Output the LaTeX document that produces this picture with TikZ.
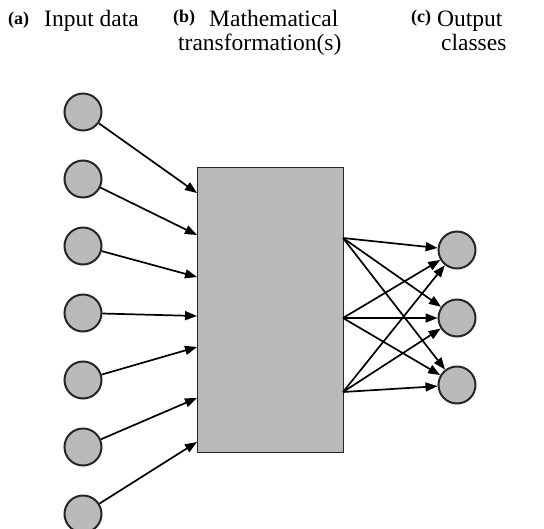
\documentclass[tikz,border=0pt]{standalone}
\usepackage{fontspec}
\setmainfont{Liberation Serif}
\usetikzlibrary{arrows.meta}
\begin{document}
\begin{tikzpicture}[x=1pt,y=-1pt,
  unit/.style={circle,draw=black!85,line width=2pt,fill=black!27,minimum size=37pt,inner sep=0pt},
  block/.style={draw=black!85,line width=1.4pt,fill=black!27},
  conn/.style={line width=1.7pt,-{Triangle[length=12pt,width=9pt]}},
  lbl/.style={font=\fontsize{23.5}{27}\selectfont,inner sep=0pt,anchor=base west},
  tag/.style={font=\fontsize{18}{20}\selectfont\bfseries,inner sep=0pt,anchor=base west}]
\useasboundingbox (0,0) rectangle (544,528);
\begin{scope}
\clip (0,0) rectangle (544,528);
% headings
\node[tag] (ta) at (8,24) {(a)};
\node[lbl] (la) at (44,26) {Input data};
\node[tag] (tb) at (173,22) {(b)};
\node[lbl] (lb) at (209,26) {Mathematical};
\node[lbl] (lb2) at (178,50) {transformation(s)};
\node[tag] (tc) at (411,22) {(c)};
\node[lbl] (lc) at (437,26) {Output};
\node[lbl] (lc2) at (441,50) {classes};
% transformation block
\node[block,minimum width=146pt,minimum height=285pt,inner sep=0pt,anchor=north west] (box) at (197,167) {};
% input units
\foreach \i/\y in {1/112,2/179,3/246,4/313,5/380,6/447,7/514}
  \node[unit] (in\i) at (83,\y) {};
\foreach \i/\y in {1/193,2/235,3/277,4/316,5/347,6/398,7/442}
  \coordinate (e\i) at (197,\y);
\foreach \i in {1,...,7}
  \draw[conn] (in\i) -- (e\i);
% output units
\foreach \j/\y in {1/250,2/318,3/385}
  \node[unit] (out\j) at (457,\y) {};
\foreach \k/\y in {1/238,2/318,3/392}
  \coordinate (s\k) at (343,\y);
\foreach \k in {1,2,3}
  \foreach \j in {1,2,3}
    \draw[conn] (s\k) -- (out\j);
\end{scope}
\end{tikzpicture}
\end{document}
